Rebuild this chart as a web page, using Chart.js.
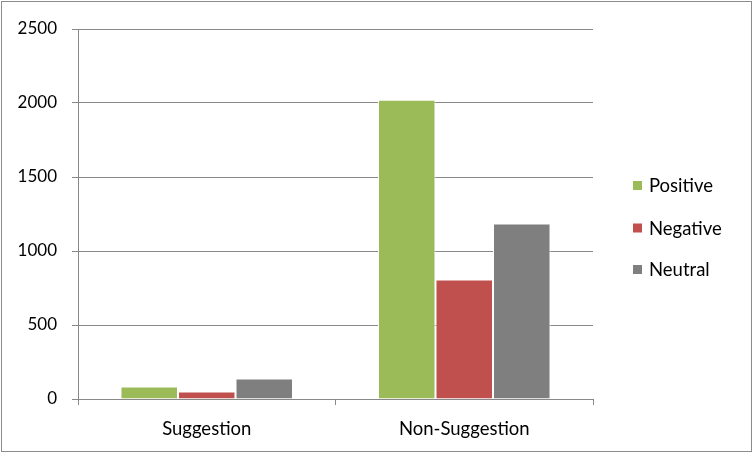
<!DOCTYPE html>
<html>
<head>
<meta charset="utf-8">
<script src="https://cdn.jsdelivr.net/npm/chart.js@4"></script>
<style>
  html, body { margin:0; padding:0; background:#fff; }
  #wrap { width:753px; height:453px; }
</style>
</head>
<body>
<div id="wrap"><canvas id="chart" width="753" height="453"></canvas></div>
<script>
// Data
const categories = ["Suggestion", "Non-Suggestion"];
const positive = [84, 2022];
const negative = [50, 808];
const neutral = [138, 1186];
const seriesNames = ["Positive", "Negative", "Neutral"];
const seriesColors = ["#9BBB59", "#C0504D", "#7F7F7F"];
const yTicks = [0, 500, 1000, 1500, 2000, 2500];

const FONT = "Lato, 'Open Sans', sans-serif";

// frame + legend drawn on canvas
const frameLegend = {
  id: "frameLegend",
  afterDraw(chart){
    const ctx = chart.ctx;
    ctx.save();
    ctx.strokeStyle = "#8c8c8c";
    ctx.lineWidth = 1;
    ctx.strokeRect(1.5, 1.5, 750, 450);
    const items = chart.data.datasets;
    const x0 = 633, ys = [185.5, 228, 269.5];
    ctx.font = "18.5px " + FONT;
    ctx.textBaseline = "middle";
    items.forEach((ds, i)=>{
      ctx.fillStyle = ds.backgroundColor;
      ctx.fillRect(x0, ys[i]-4.5, 9, 9);
      ctx.fillStyle = "#000";
      ctx.fillText(ds.label, x0 + 16, ys[i] + 1);
    });
    ctx.restore();
  }
};

const values = [positive, negative, neutral];

new Chart(document.getElementById("chart").getContext("2d"), {
  type: "bar",
  data: {
    labels: categories,
    datasets: seriesNames.map((name, i)=>({
      label: name,
      data: values[i],
      backgroundColor: seriesColors[i],
      borderColor: "#ffffff",
      borderWidth: 1,
      categoryPercentage: 0.67,
      barPercentage: 1.0
    }))
  },
  options: {
    responsive: false,
    animation: false,
    layout: { padding: { top: 29, right: 160, bottom: 0, left: 0 } },
    plugins: { legend: { display: false }, tooltip: { enabled: false } },
    scales: {
      x: {
        grid: { display: true, drawOnChartArea: false, drawTicks: true, tickLength: 6, color: "#888", offset: true },
        border: { display: true, color: "#888", width: 1 },
        ticks: { color: "#000", font: { size: 18.5, family: FONT }, padding: 13 },
        afterFit(s){ s.height = 54; }
      },
      y: {
        min: 0, max: 2500,
        afterBuildTicks(s){ s.ticks = yTicks.map(v=>({value:v})); },
        grid: { color: "#888", tickLength: 6, lineWidth: 1 },
        border: { display: true, color: "#888", width: 1 },
        ticks: { color: "#000", font: { size: 17, family: FONT }, padding: 15, callback: v => String(v) },
        afterFit(s){ s.width = 78; }
      }
    }
  },
  plugins: [frameLegend]
});
</script>
</body>
</html>
